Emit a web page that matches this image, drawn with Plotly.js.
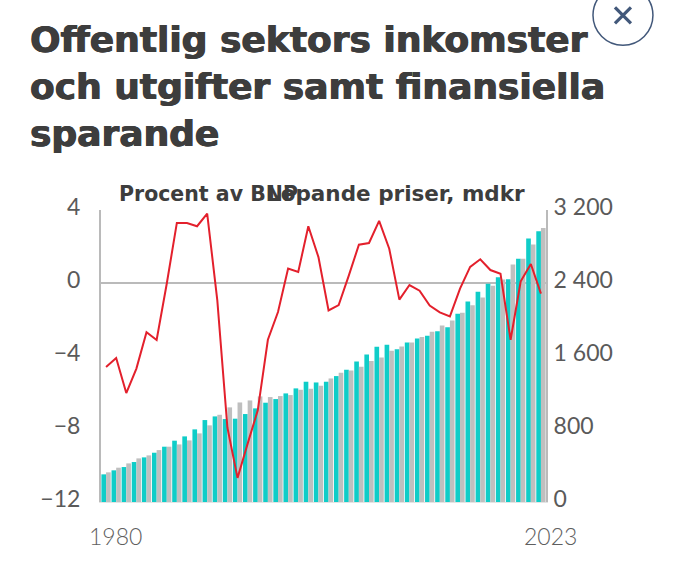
<!DOCTYPE html>
<html>
<head>
<meta charset="utf-8">
<script src="https://cdn.plot.ly/plotly-3.0.1.min.js"></script>
<style>html,body{margin:0;padding:0;background:#fff}</style>
</head>
<body>
<div id="chart" style="width:700px;height:588px"></div>
<script>
const years = [1980,1981,1982,1983,1984,1985,1986,1987,1988,1989,1990,1991,1992,1993,1994,1995,1996,1997,1998,1999,2000,2001,2002,2003,2004,2005,2006,2007,2008,2009,2010,2011,2012,2013,2014,2015,2016,2017,2018,2019,2020,2021,2022,2023];
const inkomster = [303,347,383,438,489,540,606,672,719,796,898,938,909,913,964,1026,1088,1128,1190,1245,1318,1310,1318,1380,1449,1540,1617,1701,1723,1675,1748,1792,1821,1872,1916,2062,2197,2303,2391,2464,2442,2665,2887,2967];
const utgifter = [325,376,423,478,511,569,606,631,675,752,840,956,1037,1091,1113,1157,1150,1161,1172,1230,1241,1274,1354,1416,1442,1482,1544,1584,1657,1705,1748,1807,1865,1935,1989,2073,2157,2241,2369,2438,2602,2665,2821,3004];
const sparande = [-4.60,-4.11,-6.03,-4.69,-2.70,-3.12,-0.04,3.29,3.29,3.11,3.80,-0.95,-7.93,-10.68,-8.80,-6.98,-3.11,-1.59,0.79,0.60,3.11,1.42,-1.50,-1.21,0.40,2.10,2.19,3.40,1.88,-0.91,-0.11,-0.42,-1.24,-1.61,-1.83,-0.31,0.88,1.30,0.71,0.51,-3.11,0.09,1.04,-0.58];
const leftTicks = [4,0,-4,-8,-12];
const leftLabels = ["4","0","−4","−8","−12"];
const rightTicks = [3200,2400,1600,800,0];
const rightLabels = ["3 200","2 400","1 600","800","0"];
const titleText = "Offentlig sektors inkomster<br>och utgifter samt finansiella<br>sparande";

const W = 700, H = 588, L = 100.5, R = 545.7, T = 209.7, B = 501.7;
const px = v => (v - L) / (R - L);
const py = v => (B - v) / (B - T);
const tickFont = {family: "Lato, 'Open Sans', sans-serif", size: 23, color: "#5a5a5a"};
const xTickFont = {family: "Lato, 'Open Sans', sans-serif", size: 23, weight: 300, color: "#5f5f5f"};
const headFont = "'DejaVu Sans', sans-serif";
const axisGrey = "#bababa";
const iconColor = "#42587a";
const cx = 622.7, cy = 15;

const data = [
  {type:"bar", name:"Inkomster", x:years, y:inkomster, yaxis:"y", marker:{color:"#0fcdc8"}, hoverinfo:"x+y"},
  {type:"bar", name:"Utgifter", x:years, y:utgifter, yaxis:"y", marker:{color:"#bfbfbf"}, hoverinfo:"x+y"},
  {type:"scatter", mode:"lines", name:"Finansiellt sparande", x:years, y:sparande, yaxis:"y2",
   line:{color:"#e3202c", width:2, shape:"linear"}}
];
const layout = {
  width:W, height:H, autosize:false,
  paper_bgcolor:"#fff", plot_bgcolor:"#fff",
  showlegend:false,
  barmode:"group", bargap:0.08, bargroupgap:0,
  margin:{l:L, r:W-R, t:T, b:H-B, pad:0},
  title:{text:titleText, x:30/W, xanchor:"left", xref:"container", yref:"container", y:1-52/H, yanchor:"top",
         font:{family:headFont, size:36, weight:700, color:"#3d3d3d", shadow:"0.6px 0 0 #3d3d3d, -0.6px 0 0 #3d3d3d"}},
  xaxis:{range:[1979.5,2023.5], showgrid:false, zeroline:false, showticklabels:false, ticks:"",
         showline:true, linecolor:"#e4e4e4", linewidth:1, fixedrange:true},
  yaxis:{side:"right", range:[0,3200], tickmode:"array", tickvals:rightTicks, ticktext:rightLabels,
         tickfont:tickFont, showgrid:false, zeroline:false, showline:true, linecolor:axisGrey, linewidth:2,
         ticks:"", ticklabelstandoff:1, ticklabelshift:-3, fixedrange:true},
  yaxis2:{side:"left", overlaying:"y", range:[-12,4], tickmode:"array", tickvals:leftTicks, ticktext:leftLabels,
         tickfont:tickFont, showgrid:false, zeroline:true, zerolinecolor:axisGrey, zerolinewidth:2,
         showline:true, linecolor:axisGrey, linewidth:2, ticks:"", ticklabelstandoff:14, ticklabelshift:-3, fixedrange:true},
  annotations:[
    {xref:"paper", yref:"paper", x:px(117), y:py(193.5), xanchor:"left", yanchor:"middle", showarrow:false,
     text:"Procent av BNP", font:{family:headFont, size:20.5, weight:700, color:"#3d3d3d"}},
    {xref:"paper", yref:"paper", x:px(527), y:py(193.5), xanchor:"right", yanchor:"middle", showarrow:false,
     text:"Löpande priser, mdkr", font:{family:headFont, size:21.5, weight:700, color:"#3d3d3d"}},
    {xref:"paper", yref:"paper", x:px(115), y:py(536), xanchor:"center", yanchor:"middle", showarrow:false,
     text:String(years[0]), font:xTickFont},
    {xref:"paper", yref:"paper", x:px(550), y:py(536), xanchor:"center", yanchor:"middle", showarrow:false,
     text:String(years[years.length-1]), font:xTickFont}
  ],
  shapes:[
    {type:"circle", xref:"paper", yref:"paper", x0:px(cx-30), x1:px(cx+30), y0:py(cy+30), y1:py(cy-30),
     line:{color:iconColor, width:1.5}, fillcolor:"rgba(0,0,0,0)"},
    {type:"line", xref:"paper", yref:"paper", x0:px(cx-8), x1:px(cx+8), y0:py(cy-8), y1:py(cy+8), line:{color:iconColor, width:3.2}},
    {type:"line", xref:"paper", yref:"paper", x0:px(cx-8), x1:px(cx+8), y0:py(cy+8), y1:py(cy-8), line:{color:iconColor, width:3.2}}
  ]
};
Plotly.newPlot("chart", data, layout, {displayModeBar:false, staticPlot:true});
</script>
</body>
</html>
